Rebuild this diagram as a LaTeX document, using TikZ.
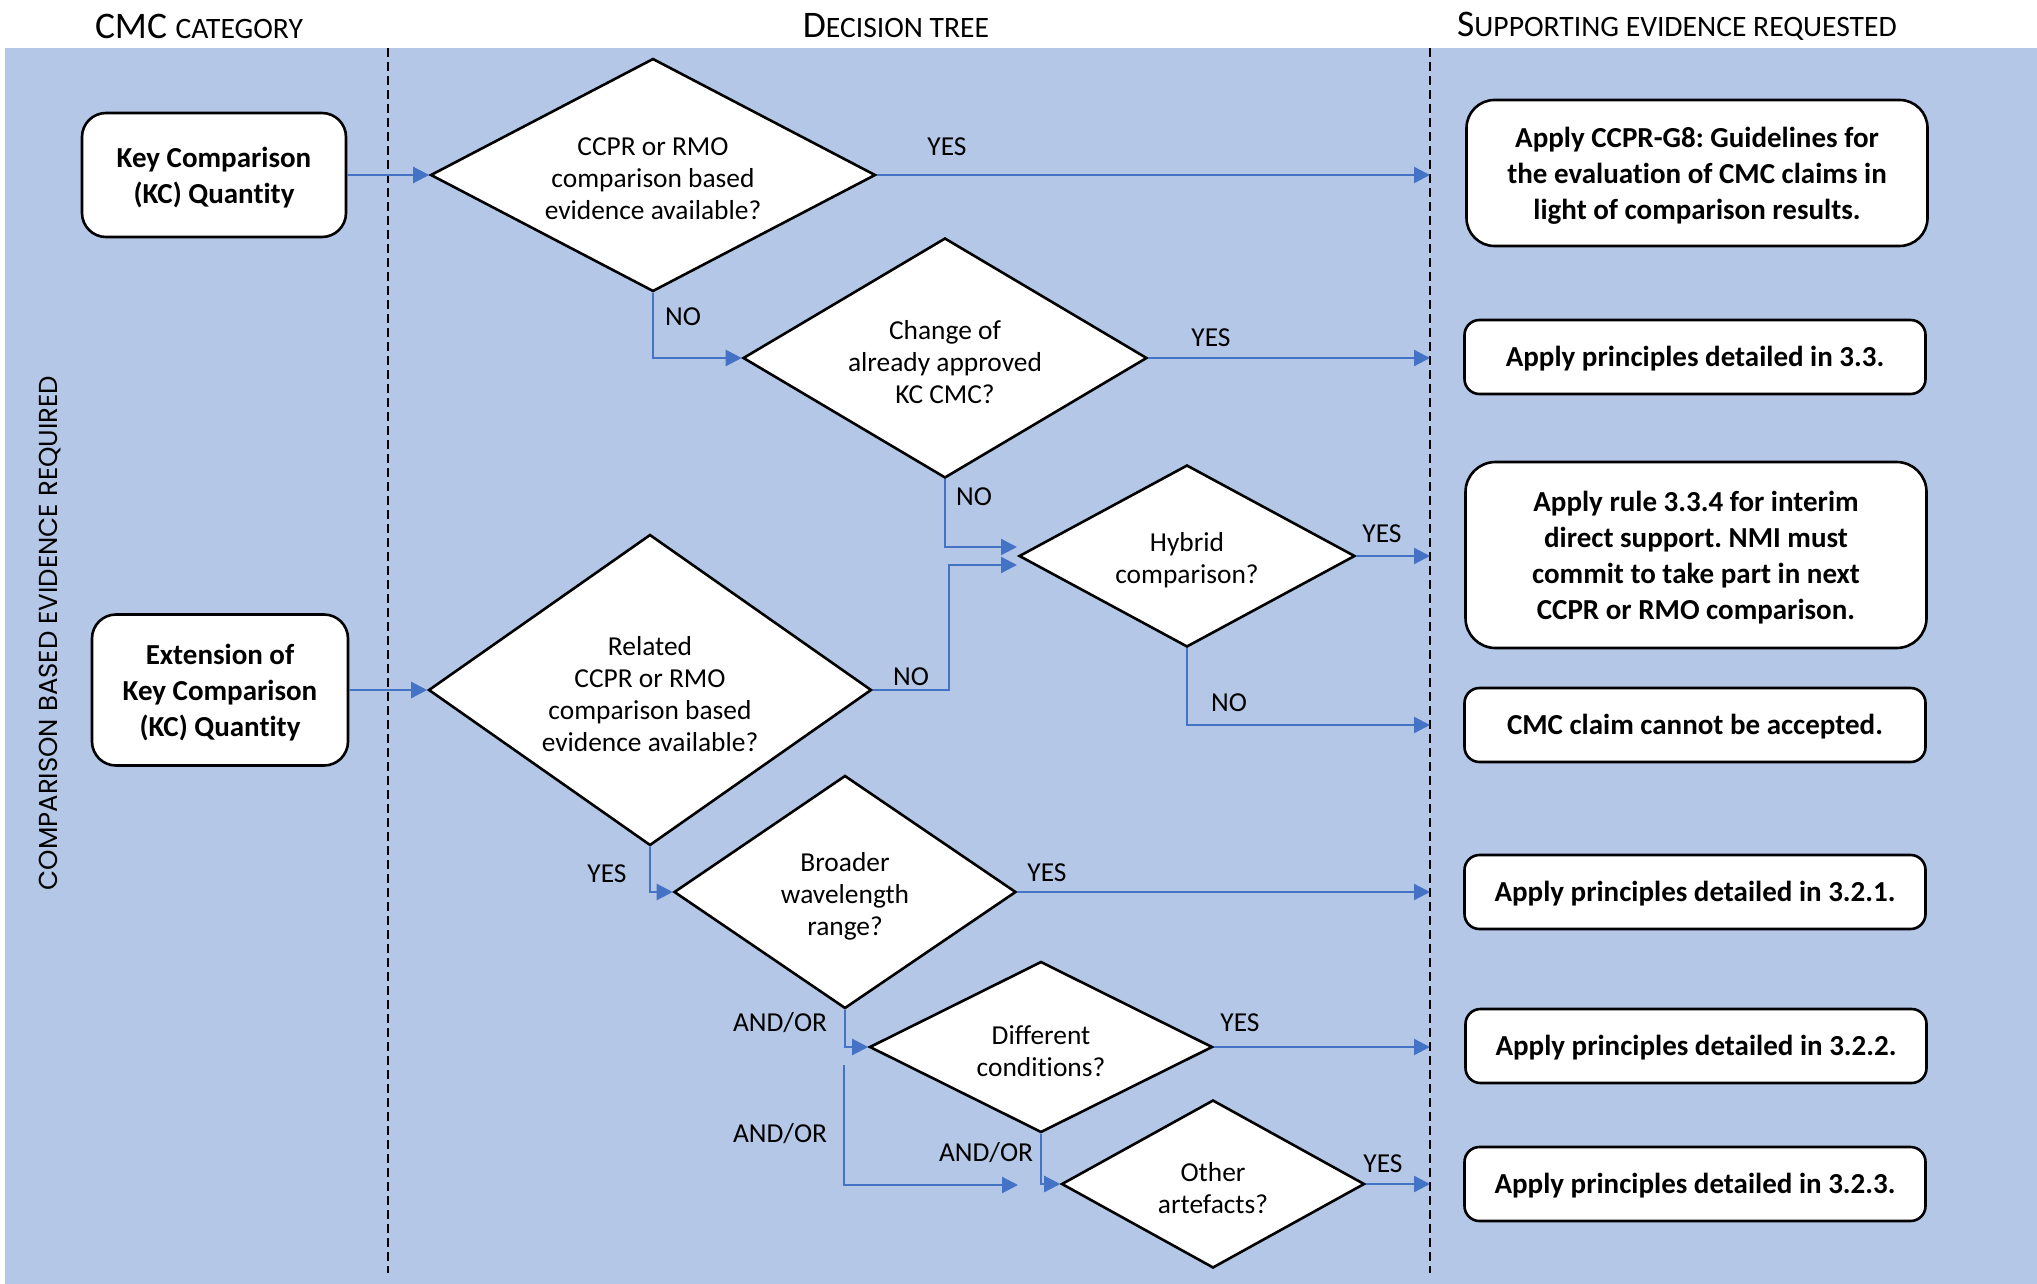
\documentclass[tikz,border=0pt]{standalone}
\usepackage{fontspec}
\setmainfont{Carlito}[Ligatures=NoCommon]
\newfontfamily\geofont{Poppins}
\usetikzlibrary{shapes.geometric,arrows.meta,calc}
\definecolor{bgblue}{HTML}{B4C7E7}
\definecolor{lineblue}{HTML}{4472C4}
\newcommand\myb{\fontsize{29}{36}\selectfont\bfseries}
\newcommand\myr{\fontsize{27.4}{32}\selectfont}
\newcommand\hbig{\fontsize{37.5}{40}\selectfont}
\newcommand\hsm{\fontsize{29.6}{34}\selectfont}
\frenchspacing
\begin{document}
\begin{tikzpicture}[x=1pt,y=-1pt,
  box/.style={draw=black, line width=2.6pt, fill=white, rounded corners=24pt, inner sep=0pt, minimum width=461pt},
  sbox/.style={box, rounded corners=15pt, minimum height=74pt},
  btext/.style={font=\myb, align=center, inner sep=0pt, yshift=-3pt},
  dia/.style={draw=black, line width=2.6pt, fill=white, diamond, inner sep=0pt},
  dtext/.style={font=\myr, align=center, inner sep=0pt, yshift=-4pt},
  conn/.style={draw=lineblue, line width=2.3pt, -{Triangle[length=16pt,width=16pt]}},
  lbl/.style={font=\myr, inner sep=0pt},
  hdr/.style={inner sep=0pt, anchor=center}]
\useasboundingbox (0,0) rectangle (2037,1284);
\fill[bgblue] (5,48) rectangle (2037,1284);
% headers
\node[hdr] (h1) at (199,26) {{\hbig CMC }{\hsm CATEGORY}};
\node[hdr] (h2) at (896,26) {{\hbig D}{\hsm ECISION TREE}};
\node[hdr] (h3) at (1677,26) {{\hbig S}{\hsm UPPORTING EVIDENCE REQUESTED}};
% separators
\draw[black, line width=2pt, dash pattern=on 9pt off 5pt] (388,48) -- (388,1273);
\draw[black, line width=2pt, dash pattern=on 9pt off 5pt] (1430,48) -- (1430,1273);
\coordinate (dashR) at (1430,0);
% side text
\node[rotate=90, font=\geofont\fontsize{26}{30}\selectfont, inner sep=0pt] (side) at (50,633) {COMPARISON BASED EVIDENCE REQUIRED};
% left boxes
\node[box, minimum width=264pt, minimum height=124pt, label={[btext]center:{Key Comparison\\(KC) Quantity}}] (kc) at (214,175) {};
\node[box, minimum width=256pt, minimum height=151pt, label={[btext]center:{Extension of\\Key Comparison\\(KC) Quantity}}] (ext) at (220,690) {};
% diamonds
\node[dia, minimum width=445pt, minimum height=233pt, label={[dtext]center:{CCPR or RMO\\comparison based\\evidence available?}}] (d1) at (653,175) {};
\node[dia, minimum width=404pt, minimum height=240pt, label={[dtext]center:{Change of\\already approved\\KC CMC?}}] (d2) at (945,358) {};
\node[dia, minimum width=336pt, minimum height=182pt, label={[dtext]center:{Hybrid\\comparison?}}] (d3) at (1187,556) {};
\node[dia, minimum width=443pt, minimum height=311pt, label={[dtext]center:{Related\\CCPR or RMO\\comparison based\\evidence available?}}] (d4) at (650,690) {};
\node[dia, minimum width=342pt, minimum height=233pt, label={[dtext]center:{Broader\\wavelength\\range?}}] (d5) at (845,892) {};
\node[dia, minimum width=343pt, minimum height=171pt, label={[dtext]center:{Different\\conditions?}}] (d6) at (1041,1047) {};
\node[dia, minimum width=303pt, minimum height=168pt, label={[dtext]center:{Other\\artefacts?}}] (d7) at (1213,1184) {};
% right boxes
\node[box, minimum height=146pt, rounded corners=28pt, label={[btext]center:{Apply CCPR-G8: Guidelines for\\the evaluation of CMC claims in\\light of comparison results.}}] (r1) at (1697,173) {};
\node[sbox, label={[btext, yshift=1pt]center:{Apply principles detailed in 3.3.}}] (r2) at (1695,357) {};
\node[box, minimum height=186pt, rounded corners=30pt, label={[btext]center:{Apply rule 3.3.4 for interim\\direct support. NMI must\\commit to take part in next\\CCPR or RMO comparison.}}] (r3) at (1696,555) {};
\node[sbox, label={[btext, yshift=1pt]center:{CMC claim cannot be accepted.}}] (r4) at (1695,725) {};
\node[sbox, label={[btext, yshift=1pt]center:{Apply principles detailed in 3.2.1.}}] (r5) at (1695,892) {};
\node[sbox, label={[btext, yshift=1pt]center:{Apply principles detailed in 3.2.2.}}] (r6) at (1696,1046) {};
\node[sbox, label={[btext, yshift=1pt]center:{Apply principles detailed in 3.2.3.}}] (r7) at (1695,1184) {};
% helper coordinates
\coordinate (d3inA) at (1017,547);
\coordinate (d3inB) at (1017,565);
\coordinate (t4) at (1430,725);
\coordinate (fA) at (844,1065);
\coordinate (fB) at (1018,1185);
% connectors
\draw[conn] (kc.east) -- (d1.west);
\draw[conn] (ext.east) -- (d4.west);
\draw[conn] (d1.east) -- (d1.east -| dashR);
\draw[conn] (d1.south) |- (d2.west);
\draw[conn] (d2.east) -- (d2.east -| dashR);
\draw[conn] (d2.south) |- (d3inA);
\draw[conn] (d4.east) -- ++(76pt,0) |- (d3inB);
\draw[conn] (d3.east) -- (d3.east -| dashR);
\draw[conn] (d3.south) |- (t4);
\draw[conn] (d4.south) |- (d5.west);
\draw[conn] (d5.east) -- (d5.east -| dashR);
\draw[conn] (d5.south) |- (d6.west);
\draw[conn] (fA) |- (fB);
\draw[conn] (d6.south) |- (d7.west);
\draw[conn] (d6.east) -- (d6.east -| dashR);
\draw[conn] (d7.east) -- (d7.east -| dashR);
% labels
\node[lbl] (l1) at (947,147) {YES};
\node[lbl] (l2) at (683,317) {NO};
\node[lbl] (l3) at (1211,338) {YES};
\node[lbl] (l4) at (974,497) {NO};
\node[lbl] (l5) at (1382,534) {YES};
\node[lbl] (l6) at (911,677) {NO};
\node[lbl] (l7) at (1229,703) {NO};
\node[lbl] (l8) at (607,874) {YES};
\node[lbl] (l9) at (1047,873) {YES};
\node[lbl] (l10) at (780,1023) {AND/OR};
\node[lbl] (l11) at (780,1134) {AND/OR};
\node[lbl] (l12) at (986,1153) {AND/OR};
\node[lbl] (l13) at (1240,1023) {YES};
\node[lbl] (l14) at (1383,1164) {YES};
\end{tikzpicture}
\end{document}
